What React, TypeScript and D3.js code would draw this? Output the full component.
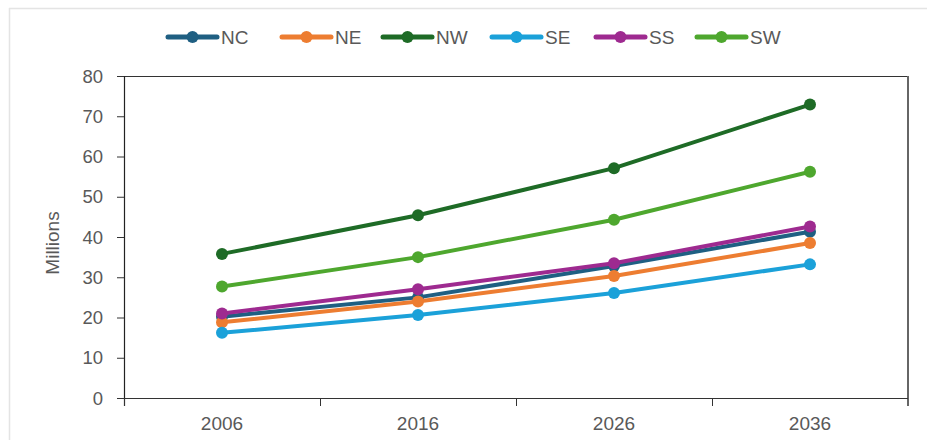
import React from "react";
import * as d3 from "d3";

const years = ["2006", "2016", "2026", "2036"];
const seriesNames = ["NC", "NE", "NW", "SE", "SS", "SW"];
const seriesColors = ["#1f5f82", "#ed7d31", "#1e6b26", "#1ba1d9", "#9e2a90", "#4ea72e"];
const NC = [20.2, 25.0, 32.8, 41.3];
const NE = [18.8, 24.0, 30.3, 38.5];
const NW = [35.8, 45.4, 57.1, 72.9];
const SE = [16.2, 20.6, 26.1, 33.2];
const SS = [21.0, 27.0, 33.5, 42.6];
const SW = [27.7, 35.0, 44.3, 56.2];
const seriesValues = [NC, NE, NW, SE, SS, SW];
const yTicks = [0, 10, 20, 30, 40, 50, 60, 70, 80];

export default function App() {
  const W = 927, H = 440;
  const left = 124, right = 908, top = 76, bottom = 398;
  const x = d3.scaleBand<string>().domain(years).range([left, right]);
  const y = d3.scaleLinear().domain([0, 80]).range([bottom, top]);
  const line = d3.line<number>()
    .x((_, i) => (x(years[i]) as number) + x.bandwidth() / 2)
    .y((v) => y(v));
  const font = "'Liberation Sans', Arial, sans-serif";
  const textColor = "#595959";
  const legendX = [168, 282, 383, 492, 596, 697];
  return (
    <svg width={W} height={H} style={{ position: "absolute", left: 0, top: 0, background: "#fff" }} fontFamily={font}>
      <rect x={0} y={0} width={W} height={H} fill="#fff" />
      <line x1={9} y1={8.5} x2={W} y2={8.5} stroke="#e4e4e4" strokeWidth={1.5} />
      <line x1={9.5} y1={8} x2={9.5} y2={H} stroke="#e4e4e4" strokeWidth={1.5} />
      {/* frame */}
      <line x1={left} y1={top + 0.5} x2={right} y2={top + 0.5} stroke="#333" strokeWidth={1} />
      <line x1={right} y1={top} x2={right} y2={bottom + 8} stroke="#666" strokeWidth={2} />
      <line x1={left - 7} y1={bottom + 0.5} x2={right} y2={bottom + 0.5} stroke="#333" strokeWidth={1.2} />
      <line x1={left + 0.5} y1={top} x2={left + 0.5} y2={bottom + 8} stroke="#222" strokeWidth={1.2} />
      {yTicks.map((t) => (
        <g key={t}>
          <line x1={left - 7} x2={left} y1={y(t) + 0.5} y2={y(t) + 0.5} stroke="#333" />
          <text x={103} y={y(t)} dy="0.36em" textAnchor="end" fontSize={18.5} fill={textColor}>{t}</text>
        </g>
      ))}
      {x.domain().map((d) => (
        <line key={"t" + d} x1={(x(d) as number) + 0.5} x2={(x(d) as number) + 0.5} y1={bottom} y2={bottom + 8} stroke="#333" />
      ))}
      {years.map((d) => (
        <text key={d} x={(x(d) as number) + x.bandwidth() / 2} y={430} textAnchor="middle" fontSize={19} fill={textColor}>{d}</text>
      ))}
      <text transform={`translate(59,243) rotate(-90)`} textAnchor="middle" fontSize={19} fill={textColor}>Millions</text>
      {seriesValues.map((vals, si) => (
        <g key={seriesNames[si]}>
          <path d={line(vals) || ""} fill="none" stroke={seriesColors[si]} strokeWidth={4} strokeLinejoin="round" />
          {vals.map((v, i) => (
            <circle key={i} cx={(x(years[i]) as number) + x.bandwidth() / 2} cy={y(v)} r={6} fill={seriesColors[si]} />
          ))}
        </g>
      ))}
      {seriesNames.map((n, si) => (
        <g key={"lg" + n} transform={`translate(${legendX[si]},37)`}>
          <line x1={0} x2={49} y1={0} y2={0} stroke={seriesColors[si]} strokeWidth={5} strokeLinecap="round" />
          <circle cx={24.5} cy={0} r={6} fill={seriesColors[si]} />
          <text x={53} y={0} dy="0.36em" fontSize={19} fill={textColor}>{n}</text>
        </g>
      ))}
    </svg>
  );
}
